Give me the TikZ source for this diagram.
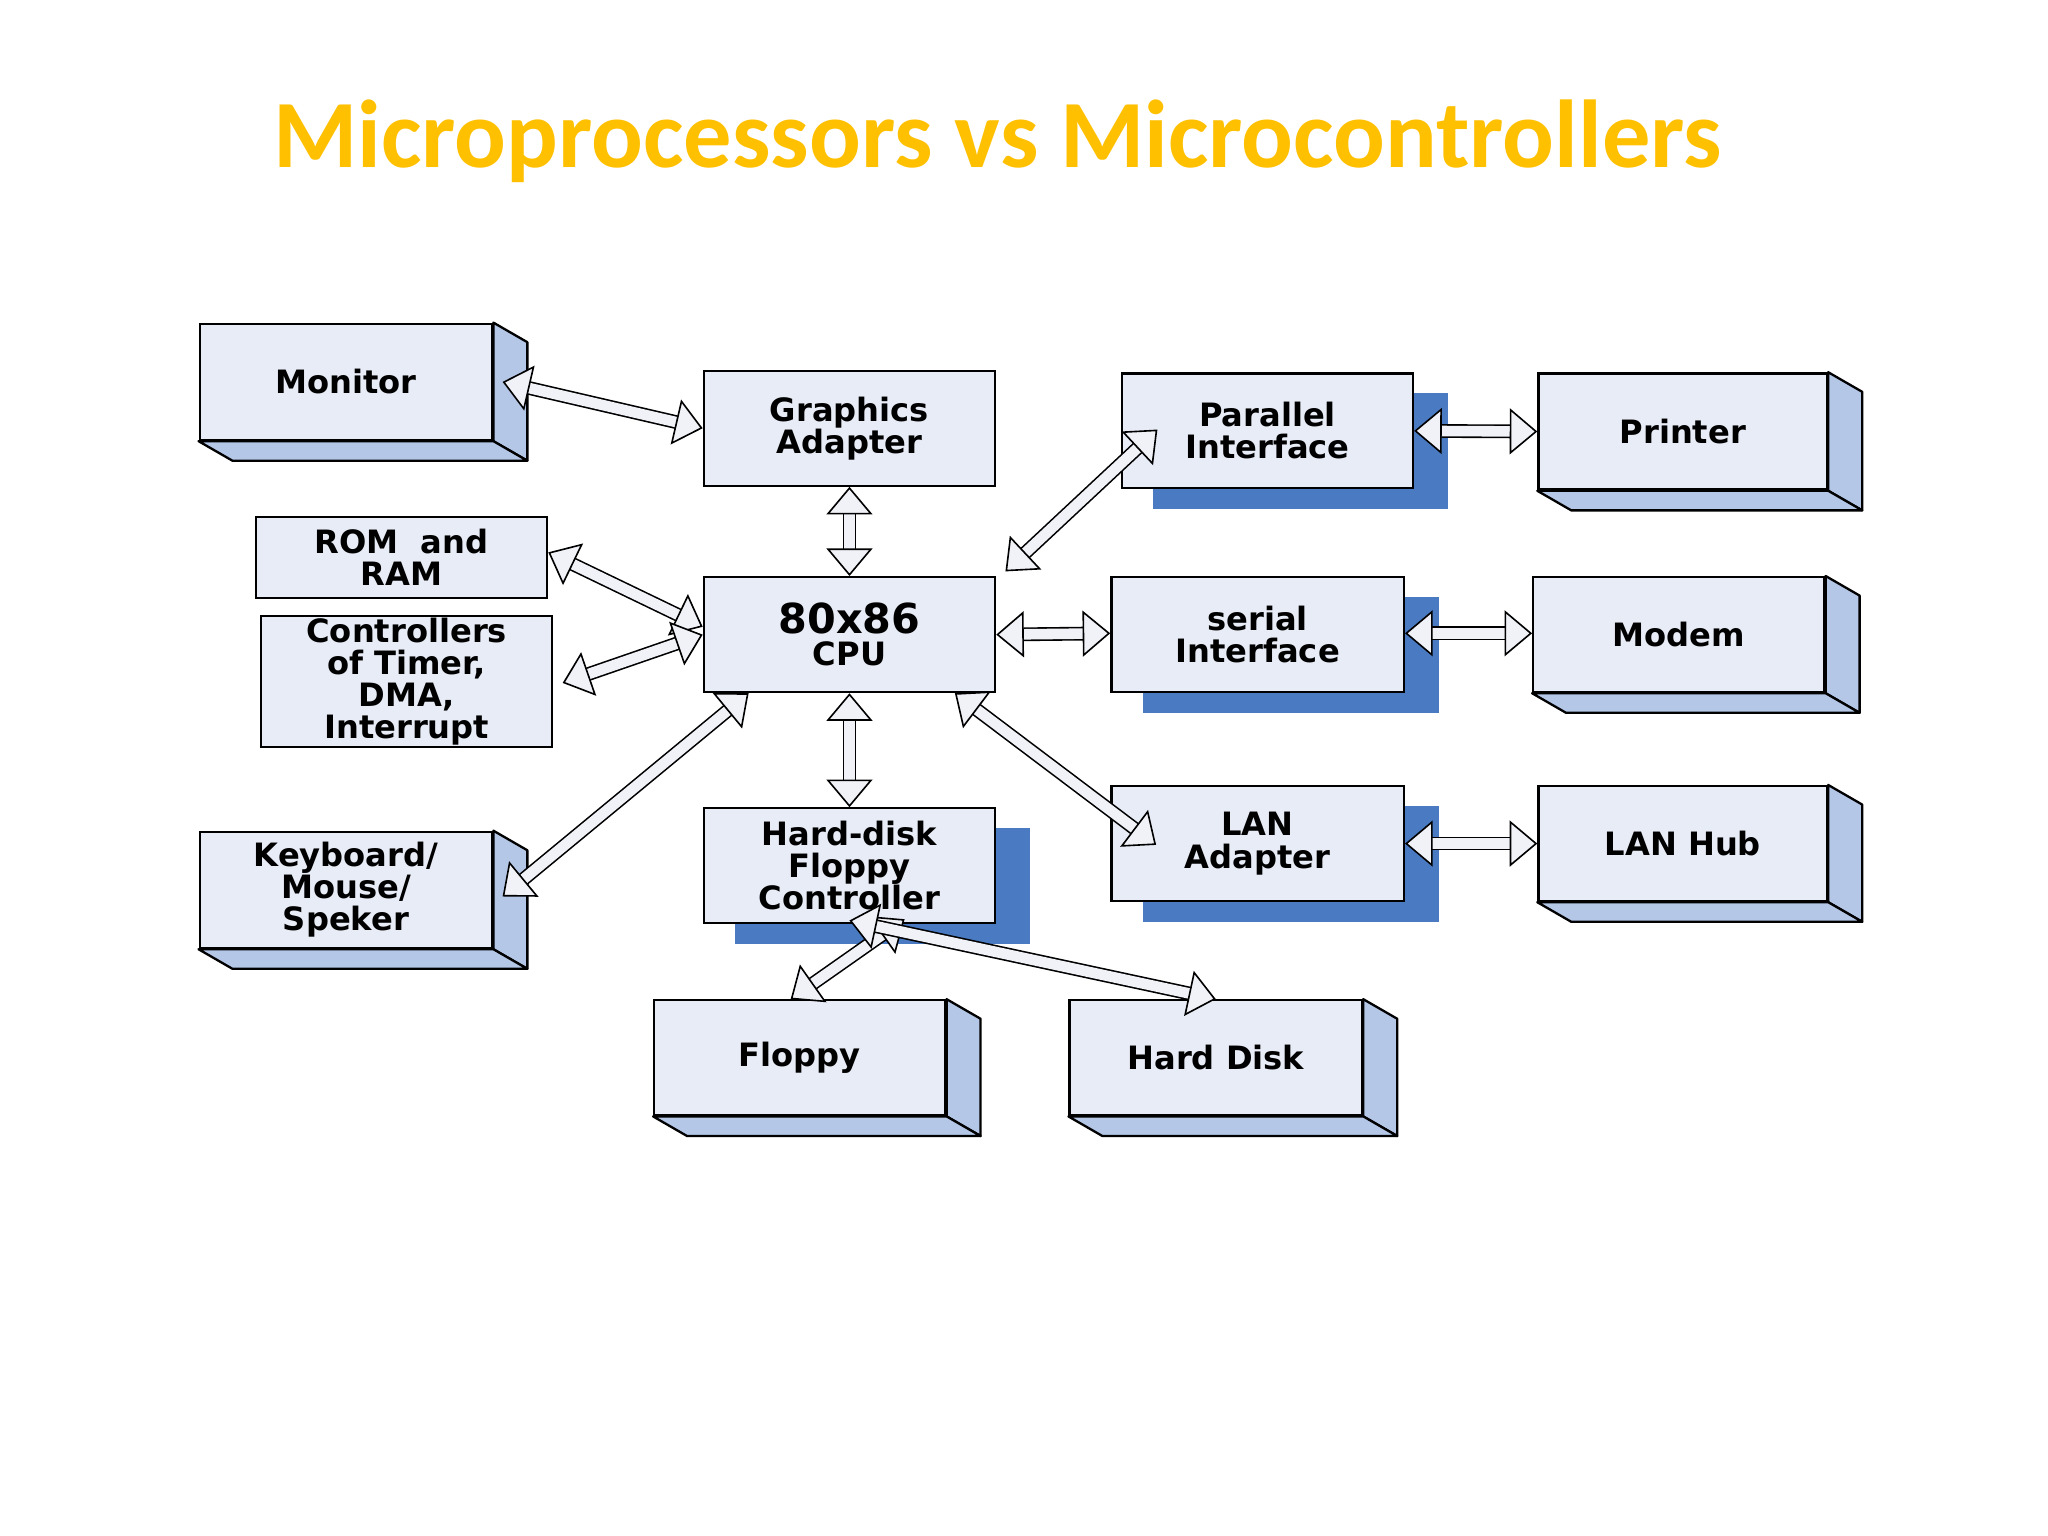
\documentclass[tikz,border=0pt]{standalone}
\usepackage{fontspec}
\setmainfont{DejaVu Sans}
\newfontfamily\titlefont{Carlito}
\usetikzlibrary{arrows.meta,calc,backgrounds}
\definecolor{boxfill}{HTML}{E8ECF6}
\definecolor{face}{HTML}{B4C7E7}
\definecolor{shadowblue}{HTML}{4A7BC2}
\definecolor{ttl}{HTML}{FFC000}
\definecolor{afill}{HTML}{F0F2F8}
\tikzset{
  blk/.style={draw=black,line width=0.5pt,fill=boxfill,anchor=north west,inner sep=0pt,align=center,
    font=\bfseries\fontsize{7}{7}\selectfont},
  face3d/.style={fill=face,draw=black,line width=0.5pt,line join=round},
  dblarrow/.style={draw=black,line width=0.35pt,double=afill,double distance=2.3pt,
    {Triangle[length=6pt,width=10pt,fill=afill,line width=0.35pt]}-{Triangle[length=6pt,width=10pt,fill=afill,line width=0.35pt]}}
}
\newcommand{\mkblk}[6]{\node[blk,minimum width=#4*0.01cm,minimum height=#5*0.01cm] (#1) at (#2,#3) {#6};}
\newcommand{\depthbox}[1]{%
  \draw[face3d] (#1.north east) -- ++(26,15) -- ($(#1.south east)+(26,15)$) -- (#1.south east) -- cycle;
  \draw[face3d] (#1.south west) -- (#1.south east) -- ($(#1.south east)+(26,15)$) -- ($(#1.south west)+(26,15)$) -- cycle;}
\newcommand{\shadowbox}[1]{%
  \begin{pgfonlayer}{background}
  \fill[shadowblue] ($(#1.south west)+(25,15)$) rectangle ($(#1.north east)+(26,16)$);
  \end{pgfonlayer}}
\begin{document}
\begin{tikzpicture}[x=0.01cm,y=-0.01cm]
\useasboundingbox (0,0) rectangle (1568,1176);
\begin{pgfonlayer}{background}
\fill[white] (0,0) rectangle (1568,1176);
\end{pgfonlayer}
\node[text=ttl,font=\titlefont\bfseries\fontsize{21}{24}\selectfont,anchor=base] (title) at (764,128) {Microprocessors vs Microcontrollers};
% 3D boxes
\mkblk{mon}{152}{247}{224}{89}{Monitor}
\mkblk{prn}{1177}{285}{221}{89}{Printer}
\mkblk{mdm}{1173}{441}{223}{88}{Modem}
\mkblk{hub}{1177}{601}{221}{88}{LAN Hub}
\mkblk{kbd}{152}{636}{224}{89}{Keyboard/\\Mouse/\\Speker}
\mkblk{flp}{500}{765}{223}{88}{Floppy}
\mkblk{hdd}{818}{765}{224}{88}{Hard Disk}
% shadow boxes
\mkblk{par}{858}{285}{223}{88}{Parallel\\Interface}
\mkblk{ser}{850}{441}{224}{88}{serial\\Interface}
\mkblk{lan}{850}{601}{224}{88}{LAN\\Adapter}
\mkblk{hdc}{538}{618}{223}{88}{Hard-disk\\Floppy\\Controller}
% plain
\mkblk{ga}{538}{283}{223}{88}{Graphics\\Adapter}
\mkblk{cpu}{538}{441}{223}{88}{\fontsize{9}{8.5}\selectfont 80x86\\CPU}
\mkblk{rom}{195}{395}{223}{62}{ROM\ \ and\\RAM}
\mkblk{ctl}{199}{471}{223}{100}{Controllers\\of Timer,\\DMA,\\Interrupt}
\foreach \n in {mon,prn,mdm,hub,kbd,flp,hdd} {\depthbox{\n}}
\foreach \n in {par,ser,lan,hdc} {\shadowbox{\n}}
% arrows
\draw[dblarrow] ([xshift=2]mon.east) -- (ga.west);
\draw[dblarrow] (ga.south) -- (cpu.north);
\draw[dblarrow] ([yshift=0.04cm]rom.east) -- ([yshift=0.06cm]cpu.west);
\draw[dblarrow] ([yshift=-0.01cm,xshift=2]ctl.east) -- (cpu.west);
\draw[dblarrow] ([xshift=2,yshift=-0.05cm]kbd.east) -- ([xshift=10]cpu.south west);
\draw[dblarrow] (cpu.south) -- (hdc.north);
\draw[dblarrow] ([xshift=2,yshift=1]cpu.north east) -- ([xshift=8,yshift=0.01cm]par.west);
\draw[dblarrow] (cpu.east) -- ([yshift=0.01cm]ser.west);
\draw[dblarrow] ([xshift=-9]cpu.south east) -- ([xshift=10,yshift=-0.01cm]lan.west);
\draw[dblarrow] (par.east) -- (prn.west);
\draw[dblarrow] ([yshift=0.01cm]ser.east) -- ([yshift=0.01cm]mdm.west);
\draw[dblarrow] (lan.east) -- (hub.west);
\draw[dblarrow] ([xshift=12,yshift=0.04cm]hdc.south) -- ([xshift=-2]flp.north);
\draw[dblarrow] ([yshift=0.03cm]hdc.south) -- ([xshift=0]hdd.north);
\end{tikzpicture}
\end{document}
